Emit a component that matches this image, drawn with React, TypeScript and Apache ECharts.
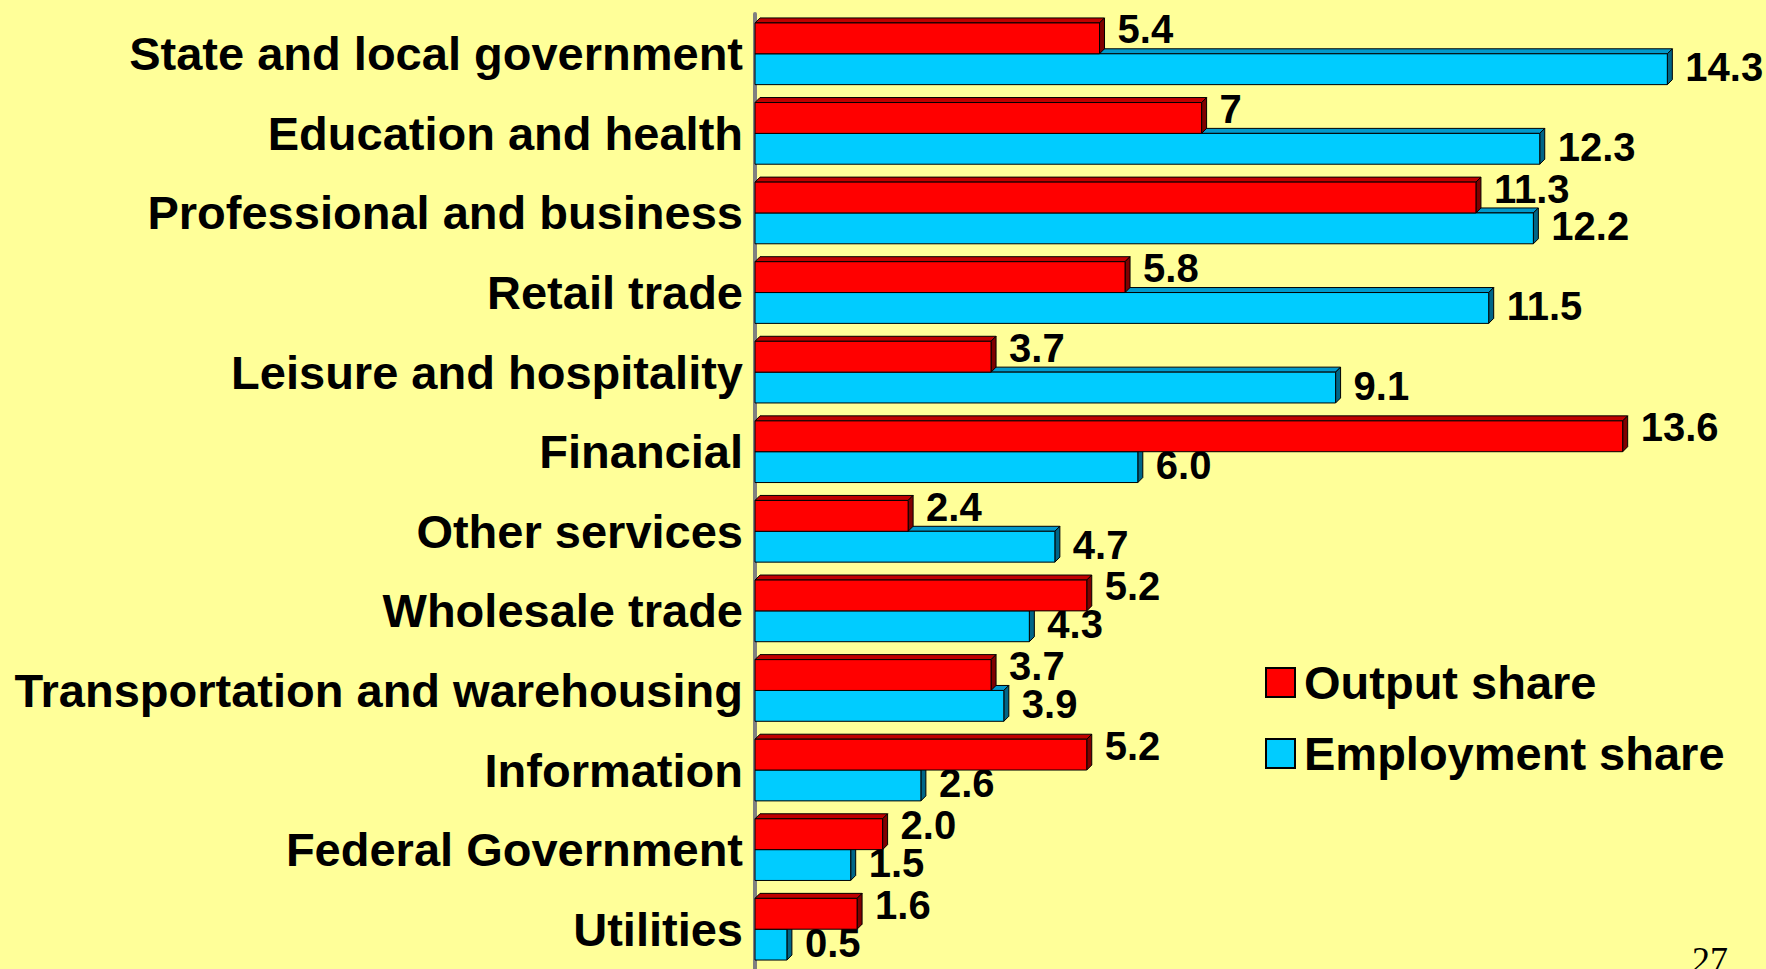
import React, { useEffect, useRef } from "react";
import * as echarts from "echarts";

const categories = [
  "State and local government",
  "Education and health",
  "Professional and business",
  "Retail trade",
  "Leisure and hospitality",
  "Financial",
  "Other services",
  "Wholesale trade",
  "Transportation and warehousing",
  "Information",
  "Federal Government",
  "Utilities",
];
const outputShare = [5.4, 7, 11.3, 5.8, 3.7, 13.6, 2.4, 5.2, 3.7, 5.2, 2.0, 1.6];
const outputLabels = ["5.4", "7", "11.3", "5.8", "3.7", "13.6", "2.4", "5.2", "3.7", "5.2", "2.0", "1.6"];
const employmentShare = [14.3, 12.3, 12.2, 11.5, 9.1, 6.0, 4.7, 4.3, 3.9, 2.6, 1.5, 0.5];
const employmentLabels = ["14.3", "12.3", "12.2", "11.5", "9.1", "6.0", "4.7", "4.3", "3.9", "2.6", "1.5", "0.5"];
const seriesNames = ["Output share", "Employment share"];
const pageNumber = "27";

const FONT = "'Liberation Sans', Arial, Helvetica, sans-serif";

function makeRender(isRed: boolean, labels: string[]) {
  const front = isRed ? "#FF0000" : "#00CCFF";
  const top = isRed ? "#C00000" : "#0099CC";
  const side = isRed ? "#800000" : "#006688";
  const dy = isRed ? -9 : -2;
  return (params: any, api: any) => {
    const v = api.value(0);
    const cat = api.value(1);
    const c = api.coord([0, cat]);
    const e = api.coord([v, cat]);
    const bw = api.size([0, 1])[1];
    const h = bw * 0.3875;
    const y0 = isRed ? c[1] - h : c[1];
    const x0 = c[0];
    const x1 = e[0];
    const d = 5;
    return {
      type: "group",
      children: [
        {
          type: "polygon",
          shape: { points: [[x0, y0], [x1, y0], [x1 + d, y0 - d], [x0 + d, y0 - d]] },
          style: { fill: top, stroke: "#000", lineWidth: 1 },
        },
        {
          type: "polygon",
          shape: { points: [[x1, y0], [x1 + d, y0 - d], [x1 + d, y0 + h - d], [x1, y0 + h]] },
          style: { fill: side, stroke: "#000", lineWidth: 1 },
        },
        {
          type: "rect",
          shape: { x: x0, y: y0, width: x1 - x0, height: h },
          style: { fill: front, stroke: "#000", lineWidth: 1 },
        },
        {
          type: "text",
          x: x1 + 18,
          y: y0 + h / 2 + dy,
          style: {
            text: labels[params.dataIndex],
            fontSize: 40,
            fontWeight: "bold",
            fontFamily: FONT,
            fill: "#000",
            align: "left",
            verticalAlign: "middle",
          },
        },
      ],
    };
  };
}

export default function App() {
  const ref = useRef<HTMLDivElement>(null);
  useEffect(() => {
    if (!ref.current) return;
    const chart = echarts.init(ref.current, null, { renderer: "svg" });
    chart.setOption({
      animation: false,
      backgroundColor: "#FFFF99",
      grid: { left: 755, right: 54, top: 14, bottom: -5, containLabel: false },
      xAxis: { type: "value", min: 0, max: 15, show: false },
      yAxis: {
        type: "category",
        data: categories,
        inverse: true,
        axisLine: { show: true, lineStyle: { color: "#808080", width: 4 } },
        axisTick: { show: false },
        splitLine: { show: false },
        axisLabel: {
          fontSize: 47,
          fontWeight: "bold",
          fontFamily: FONT,
          color: "#000",
          margin: 12,
        },
      },
      legend: {
        data: seriesNames,
        orient: "vertical",
        left: 1260,
        top: 654,
        itemWidth: 29,
        itemHeight: 29,
        itemGap: 24,
        icon: "rect",
        textStyle: {
          fontSize: 47,
          fontWeight: "bold",
          fontFamily: FONT,
          color: "#000",
          padding: [0, 0, 0, 4],
        },
      },
      graphic: [
        {
          type: "text",
          x: 1692,
          y: 960,
          style: {
            text: pageNumber,
            fontSize: 36,
            fontFamily: "'Liberation Serif', 'Times New Roman', serif",
            fill: "#000",
            verticalAlign: "middle",
          },
        },
      ],
      series: [
        {
          name: seriesNames[1],
          type: "custom",
          renderItem: makeRender(false, employmentLabels),
          encode: { x: 0, y: 1 },
          itemStyle: { color: "#00CCFF", borderColor: "#000", borderWidth: 1 },
          data: employmentShare.map((v, i) => [v, i]),
          clip: false,
        },
        {
          name: seriesNames[0],
          type: "custom",
          renderItem: makeRender(true, outputLabels),
          encode: { x: 0, y: 1 },
          itemStyle: { color: "#FF0000", borderColor: "#000", borderWidth: 1 },
          data: outputShare.map((v, i) => [v, i]),
          clip: false,
        },
      ],
    });
    return () => chart.dispose();
  }, []);
  return (
    <div
      ref={ref}
      style={{ position: "fixed", left: 0, top: 0, width: 1766, height: 969 }}
    />
  );
}
